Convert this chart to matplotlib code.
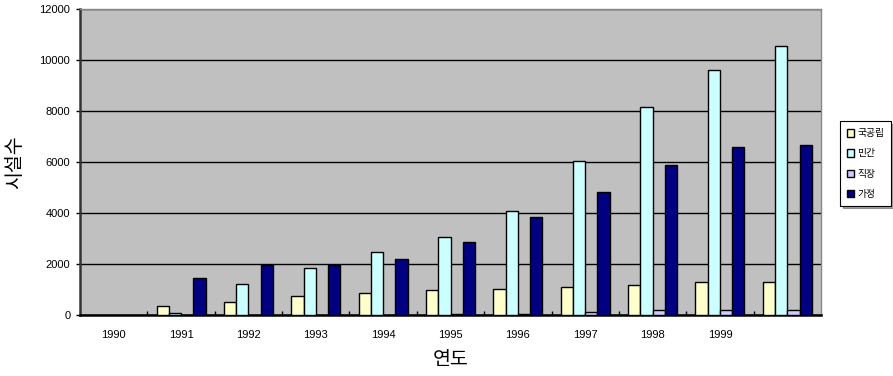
import matplotlib
matplotlib.use('Agg')
import matplotlib.pyplot as plt
from matplotlib.patches import Patch
import numpy as np

# 연도별 보육시설 수
years = ['1990', '1991', '1992', '1993', '1994', '1995', '1996', '1997', '1998', '1999', '']
series_names = ['국공립', '민간', '직장', '가정']
gonggong = [0, 365, 500, 735, 865, 982, 1033, 1100, 1167, 1284, 1284]
mingan = [0, 60, 1230, 1846, 2463, 3052, 4097, 6049, 8158, 9623, 10553]
jikjang = [0, 0, 0, 0, 0, 35, 45, 118, 185, 185, 185]
gajeong = [0, 1467, 1964, 1964, 2200, 2880, 3862, 4843, 5891, 6572, 6677]
colors = ['#FFFFCC', '#CCFFFF', '#CCCCFF', '#000080']

kr = ['Noto Sans CJK KR', 'DejaVu Sans']
plt.rcParams['font.family'] = ['Liberation Sans', 'Noto Sans CJK KR', 'DejaVu Sans']

fig = plt.figure(figsize=(8.93, 3.76), dpi=100)
ax = fig.add_axes([80/893, 61/376, 741/893, 306/376])
ax.set_facecolor('#C0C0C0')

x = np.arange(len(years))
w = 1/5.5
data = [gonggong, mingan, jikjang, gajeong]
handles = []
for i, (vals, c, name) in enumerate(zip(data, colors, series_names)):
    bars = ax.bar(x + (i - 1.5)*w, vals, w, color=c, edgecolor='black', linewidth=1.0,
                  zorder=3)
    # 값이 0인 막대는 테두리도 그리지 않음
    for b, v in zip(bars, vals):
        if v == 0:
            b.set_visible(False)
    handles.append(Patch(facecolor=c, edgecolor='black', linewidth=1.0, label=name))

ax.set_xlim(-0.5, len(years) - 0.5)
ax.set_ylim(0, 12000)
ax.set_yticks(np.arange(0, 12001, 2000))
ax.yaxis.grid(True, color='black', linewidth=1.0, zorder=1)
ax.set_axisbelow(True)

ax.set_xticks(x)
ax.set_xticklabels(years, fontsize=8)
ax.set_xticks(np.arange(0.5, len(years) - 0.5, 1), minor=True)
ax.tick_params(axis='x', which='major', length=0, pad=11)
ax.tick_params(axis='x', which='minor', direction='in', length=3, width=1)
ax.tick_params(axis='y', labelsize=8, length=3, width=1, pad=4)

for s in ['top', 'right']:
    ax.spines[s].set_color('#888888')
    ax.spines[s].set_linewidth(1.0)
ax.spines['left'].set_color('#333333')
ax.spines['left'].set_linewidth(1.8)
ax.spines['bottom'].set_color('black')
ax.spines['bottom'].set_linewidth(1.8)

ax.set_ylabel('시설수', family=kr, fontsize=14, labelpad=10)
ax.set_xlabel('연도', family=kr, fontsize=14, labelpad=6)

leg = fig.legend(handles=handles, loc='center left', bbox_to_anchor=(835/893, 0.565),
                 prop={'family': kr, 'size': 7}, frameon=True, fancybox=False,
                 edgecolor='black', handlelength=0.8, handleheight=0.8,
                 handletextpad=0.3, labelspacing=1.05, borderpad=0.7,
                 shadow=True)
leg.get_frame().set_linewidth(0.8)

fig.savefig('out.png', dpi=100)
